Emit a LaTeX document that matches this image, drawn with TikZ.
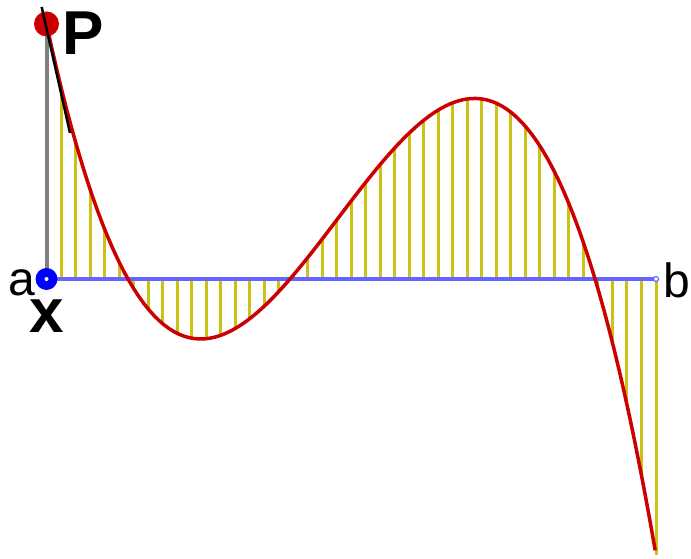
\documentclass[tikz,border=0pt]{standalone}
\usepackage{fontspec}
\setmainfont{Liberation Sans}
\usetikzlibrary{calc}
\definecolor{stripcol}{RGB}{204,194,20}
\definecolor{curvecol}{RGB}{204,0,0}
\definecolor{axiscol}{RGB}{100,100,255}
\definecolor{dotblue}{RGB}{0,0,255}
\begin{document}
\begin{tikzpicture}[
            x=1pt, y=-1pt,
            declare function={f(\t)=-5305*(\t-0.1337)*(\t-0.3995)*(\t-0.9);},
            strip/.style={stripcol, line width=3pt},
            axis/.style={axiscol, line width=4pt},
            riser/.style={gray, line width=4pt},
            curve/.style={curvecol, line width=3.5pt},
            tangent/.style={black, line width=2.5pt},
            lbl/.style={inner sep=0pt, font=\fontsize{48}{50}\selectfont},
            blbl/.style={inner sep=0pt, font=\fontsize{62}{64}\selectfont\bfseries}
        ]
            \useasboundingbox (0,0) rectangle (691,559);
            \coordinate (a) at (46.5,279);
            \coordinate (b) at (656,279);
            \coordinate (P) at (46.5,{279-f(0)});

            % strips from the axis to the curve
            \foreach \k in {1,...,42} {
                \pgfmathsetmacro{\tk}{\k/42}
                \draw[strip] ({46.5+609.5*\tk},279) -- ({46.5+609.5*\tk},{279-f(\tk)});
            }

            \draw[axis] (a) -- (b);
            \draw[riser] (a) -- (P);
            \draw[curve] plot[domain=0:1, samples=120] ({46.5+609.5*\x},{279-f(\x)});

            \fill[curvecol] (P) circle (12.5);
            \draw[tangent] ($(P)+(-4.8,-17)$) -- ($(P)+(23.5,109)$);
            \fill[dotblue] (a) circle (11);
            \fill[white] (a) circle (2);
            \draw[axiscol, fill=white, line width=1.2pt] (b) circle (2.5);

            \node[blbl, anchor=base west] (Plbl) at (62,55) {P};
            \node[lbl, anchor=base east] (albl) at (35,295) {a};
            \node[lbl, anchor=base west] (blbl) at (663,297) {b};
            \node[blbl, anchor=base] (xlbl) at (47,332) {x};
        \end{tikzpicture}
\end{document}
